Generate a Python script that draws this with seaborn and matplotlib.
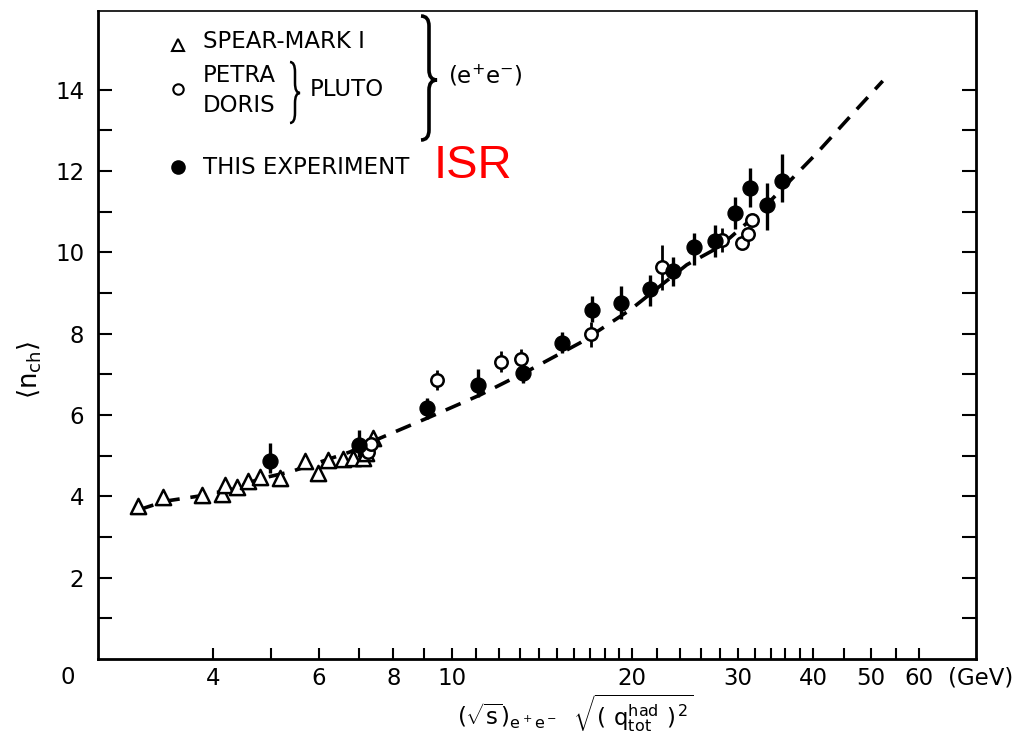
import numpy as np
import pandas as pd
import matplotlib
matplotlib.use("Agg")
import matplotlib.pyplot as plt
from matplotlib import font_manager
from matplotlib.path import Path
from matplotlib.patches import PathPatch
import seaborn as sns

# ---------------- data ----------------
spear_x = [3.00, 3.30, 3.83, 4.14, 4.19, 4.38, 4.58, 4.79, 5.17, 5.69, 5.99, 6.23, 6.58, 6.85, 7.11, 7.20, 7.40]
spear_y = [3.76, 3.99, 4.02, 4.06, 4.28, 4.22, 4.38, 4.47, 4.44, 4.87, 4.58, 4.89, 4.91, 4.93, 4.93, 5.07, 5.43]

pluto_x = [7.25, 7.33, 9.44, 12.07, 13.05, 17.04, 22.39, 28.18, 30.43, 31.22, 31.70]
pluto_y = [5.10, 5.28, 6.86, 7.31, 7.38, 7.98, 9.63, 10.30, 10.22, 10.45, 10.79]
pluto_err = [0.0, 0.0, 0.25, 0.25, 0.25, 0.30, 0.55, 0.30, 0.0, 0.0, 0.0]

isr_x = [4.98, 7.01, 9.09, 11.08, 13.16, 15.25, 17.11, 19.13, 21.41, 23.41, 25.34, 27.47, 29.66, 31.42, 33.50, 35.56]
isr_y = [4.87, 5.26, 6.16, 6.74, 7.04, 7.78, 8.58, 8.76, 9.09, 9.55, 10.14, 10.28, 10.96, 11.57, 11.16, 11.75]
isr_err_lo = [0.30, 0.30, 0.25, 0.30, 0.25, 0.25, 0.30, 0.40, 0.42, 0.39, 0.45, 0.40, 0.40, 0.47, 0.61, 0.51]
isr_err_hi = [0.43, 0.37, 0.25, 0.40, 0.25, 0.25, 0.35, 0.40, 0.35, 0.34, 0.33, 0.40, 0.40, 0.50, 0.53, 0.66]

curve_x = [3.00, 3.33, 3.81, 4.27, 4.79, 5.38, 6.03, 6.77, 7.60, 9.20, 11.15, 13.51, 16.36, 19.83, 24.65, 28.0, 32.65, 40.58, 46.1, 52.3]
curve_y = [3.66, 3.88, 4.01, 4.16, 4.43, 4.60, 4.84, 5.09, 5.43, 5.95, 6.49, 7.11, 7.77, 8.58, 9.69, 10.14, 11.00, 12.43, 13.33, 14.21]

xtick_major = [4, 6, 8, 10, 20, 30, 40, 50, 60]
xtick_labels = ["4", "6", "8", "10", "20", "30", "40", "50", "60"]
xtick_minor = [5, 7, 9, 11, 12, 13, 14, 15, 16, 17, 18, 19, 22, 24, 26, 28, 32, 34, 36, 38, 45, 55]
ytick_labels = [2, 4, 6, 8, 10, 12, 14]
ytick_all = list(range(1, 15))

# ---------------- style ----------------
sns.set_theme(style="white")
names = {f.name for f in font_manager.fontManager.ttflist}
if "Liberation Sans Narrow" in names:
    FONT, FS = "Liberation Sans Narrow", 18.5
else:
    FONT, FS = "DejaVu Sans", 16.5
plt.rcParams["font.family"] = [FONT, "DejaVu Sans"]
plt.rcParams["text.color"] = "black"
plt.rcParams["axes.labelcolor"] = "black"
plt.rcParams["mathtext.fontset"] = "custom"
plt.rcParams["mathtext.rm"] = FONT
plt.rcParams["mathtext.it"] = FONT
plt.rcParams["mathtext.default"] = "regular"

W, H = 1018, 743
fig = plt.figure(figsize=(W / 100, H / 100), dpi=100)
fig.patch.set_facecolor("white")
L, R, T, B = 98, 976, 11, 659
ax = fig.add_axes([L / W, 1 - B / H, (R - L) / W, (B - T) / H])
ax.set_facecolor("white")

ax.set_xscale("log")
ax.set_xlim(2.574, 74.8)
ax.set_ylim(0, 15.93)

# dashed curve
df_curve = pd.DataFrame({"x": curve_x, "y": curve_y})
sns.lineplot(data=df_curve, x="x", y="y", ax=ax, color="black", linewidth=2.6,
             linestyle=(0, (4.5, 3.0)), estimator=None, sort=False, zorder=2)

# error bars
ax.errorbar(isr_x, isr_y, yerr=[isr_err_lo, isr_err_hi], fmt="none", ecolor="black",
            elinewidth=2.4, capsize=0, zorder=3)
ax.errorbar(pluto_x, pluto_y, yerr=pluto_err, fmt="none", ecolor="black",
            elinewidth=2.0, capsize=0, zorder=3)

df_spear = pd.DataFrame({"x": spear_x, "y": spear_y})
df_pluto = pd.DataFrame({"x": pluto_x, "y": pluto_y})
df_isr = pd.DataFrame({"x": isr_x, "y": isr_y})
sns.scatterplot(data=df_spear, x="x", y="y", ax=ax, marker="^", s=120, color="white",
                edgecolor="black", linewidth=1.8, zorder=4)
sns.scatterplot(data=df_pluto, x="x", y="y", ax=ax, marker="o", s=80, color="white",
                edgecolor="black", linewidth=1.8, zorder=4)
sns.scatterplot(data=df_isr, x="x", y="y", ax=ax, marker="o", s=115, color="black",
                edgecolor="black", linewidth=1.0, zorder=5)

# axes / ticks
ax.set_xticks(xtick_major)
ax.set_xticklabels(xtick_labels)
ax.set_xticks(xtick_minor, minor=True)
ax.set_xticklabels([], minor=True)
ax.set_yticks(ytick_all)
ax.set_yticklabels([str(v) if v in ytick_labels else "" for v in ytick_all])
ax.tick_params(axis="x", which="both", direction="in", length=8, width=1.5,
               colors="black", labelsize=FS, pad=6, bottom=True, top=False)
ax.tick_params(axis="y", which="both", direction="in", length=10, width=1.5,
               colors="black", labelsize=FS, pad=10, left=True, right=True)
for sp in ax.spines.values():
    sp.set_visible(True)
    sp.set_color("black")
    sp.set_linewidth(2.0)
ax.spines["top"].set_linewidth(1.2)
ax.grid(False)

ax.set_xlabel(r"$(\sqrt{s})_{e^+e^-}\ \ \sqrt{(\ q_{tot}^{had}\ )^{\,2}}$", fontsize=FS)
ax.xaxis.set_label_coords((575 - L) / (R - L), (B - 713) / (B - T))
ax.xaxis.label.set_va("center")
ax.set_ylabel(r"$\langle n_{ch}\rangle$", fontsize=FS + 2)
ax.yaxis.set_label_coords((30 - L) / (R - L), (B - 370) / (B - T))
ax.yaxis.label.set_va("center")


def fx(px):
    return px / W


def fy(py):
    return 1 - py / H


fig.text(fx(68), fy(678), "0", fontsize=FS, ha="center", va="center")
fig.text(fx(1013), fy(678), "(GeV)", fontsize=FS, ha="right", va="center")

# legend drawn by hand
def axc(px, py):
    return ((px - L) / (R - L), (B - py) / (B - T))

for (px, py, mk, fc, ms) in [(178, 45, "^", "white", 8), (178, 89, "o", "white", 7.5), (178, 167, "o", "black", 9)]:
    ax.plot(*axc(px, py), marker=mk, markersize=ms, markerfacecolor=fc,
            markeredgecolor="black", markeredgewidth=1.5, transform=ax.transAxes,
            linestyle="none", clip_on=False, zorder=6)

legend_texts = [(203, 42, "SPEAR-MARK I"), (203, 75, "PETRA"), (203, 106, "DORIS"),
                (310, 89, "PLUTO"), (203, 167, "THIS EXPERIMENT")]
for px, py, t in legend_texts:
    fig.text(fx(px), fy(py), t, fontsize=FS, ha="left", va="center")
fig.text(fx(448), fy(76), r"$(e^{+}e^{-})$", fontsize=FS, ha="left", va="center")
fig.text(fx(434), fy(166), "ISR", fontsize=34, color="#ff0000", ha="left", va="center",
         family=["Liberation Sans", "DejaVu Sans"])


def brace(x0, yt, yb, ym, w, lw):
    xm = x0 + w * 0.5
    q = 10
    pts = [(x0, yt), (xm, yt), (xm, yt + q), (xm, ym - q), (xm, ym), (x0 + w, ym),
           (xm, ym), (xm, ym + q), (xm, yb - q), (xm, yb), (x0, yb)]
    codes = [Path.MOVETO, Path.CURVE3, Path.CURVE3, Path.LINETO, Path.CURVE3, Path.CURVE3,
             Path.CURVE3, Path.CURVE3, Path.LINETO, Path.CURVE3, Path.CURVE3]
    verts = [(fx(a), fy(b)) for a, b in pts]
    fig.patches.append(PathPatch(Path(verts, codes), transform=fig.transFigure,
                                 fill=False, edgecolor="black", linewidth=lw))


brace(290, 62, 123, 93, 10, 1.8)
brace(421, 16, 140, 80, 16, 2.6)

fig.savefig("out.png", dpi=100, facecolor="white")
